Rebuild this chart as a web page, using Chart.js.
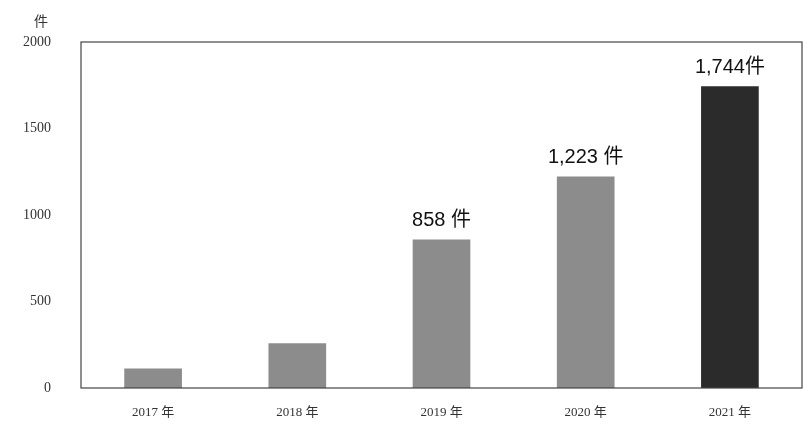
<!DOCTYPE html>
<html>
<head>
<meta charset="utf-8">
<script src="https://cdn.jsdelivr.net/npm/chart.js@4"></script>
<style>
  body { margin: 0; background: #fff; }
  #wrap { width: 810px; height: 430px; }
</style>
</head>
<body>
<div id="wrap"><canvas id="myChart"></canvas></div>
<script>
  // data
  var years = ['2017 年', '2018 年', '2019 年', '2020 年', '2021 年'];
  var counts = [112, 258, 858, 1223, 1744];
  var countLabels = ['', '', '858 件', '1,223 件', '1,744件'];
  var barColors = ['#8c8c8c', '#8c8c8c', '#8c8c8c', '#8c8c8c', '#2b2b2b'];
  var yTicks = [0, 500, 1000, 1500, 2000];
  var unitLabel = '件';

  var serif = '"Liberation Serif", "Noto Sans CJK JP", serif';

  // frame around the plot, unit mark and the value labels above bars
  var extras = {
    id: 'extras',
    afterDraw: function(chart) {
      var ctx = chart.ctx;
      var a = chart.chartArea;
      ctx.save();
      ctx.strokeStyle = '#444';
      ctx.lineWidth = 1.2;
      ctx.strokeRect(a.left, a.top, a.right - a.left, a.bottom - a.top);

      ctx.fillStyle = '#333';
      ctx.font = '14px ' + serif;
      ctx.textAlign = 'center';
      ctx.textBaseline = 'middle';
      ctx.fillText(unitLabel, a.left - 40, a.top - 20);

      var meta = chart.getDatasetMeta(0);
      ctx.fillStyle = '#111';
      ctx.font = '20px "Liberation Sans", Arial, "Noto Sans CJK JP", sans-serif';
      ctx.textBaseline = 'bottom';
      meta.data.forEach(function(bar, i) {
        if (countLabels[i]) ctx.fillText(countLabels[i], bar.x, bar.y - 9);
      });
      ctx.restore();
    }
  };

  var ctx = document.getElementById('myChart').getContext('2d');
  var chart = new Chart(ctx, {
    type: 'bar',
    data: {
      labels: years,
      datasets: [{
        data: counts,
        backgroundColor: barColors,
        barPercentage: 0.4,
        categoryPercentage: 1.0
      }]
    },
    options: {
      responsive: true,
      maintainAspectRatio: false,
      animation: false,
      layout: { padding: { top: 42, right: 8, bottom: 0, left: 0 } },
      plugins: { legend: { display: false }, tooltip: { enabled: false } },
      scales: {
        x: {
          grid: { display: false },
          border: { display: false },
          ticks: { color: '#333', font: { family: serif, size: 13 }, padding: 9, maxRotation: 0 },
          afterFit: function(s) { s.height = 42; }
        },
        y: {
          min: 0,
          max: 2000,
          afterBuildTicks: function(s) { s.ticks = yTicks.map(function(v) { return { value: v }; }); },
          grid: { display: false },
          border: { display: false },
          ticks: {
            color: '#333', font: { family: serif, size: 14 }, padding: 22,
            callback: function(v) { return String(v); }
          },
          afterFit: function(s) { s.width = 81; }
        }
      }
    },
    plugins: [extras]
  });
</script>
</body>
</html>
